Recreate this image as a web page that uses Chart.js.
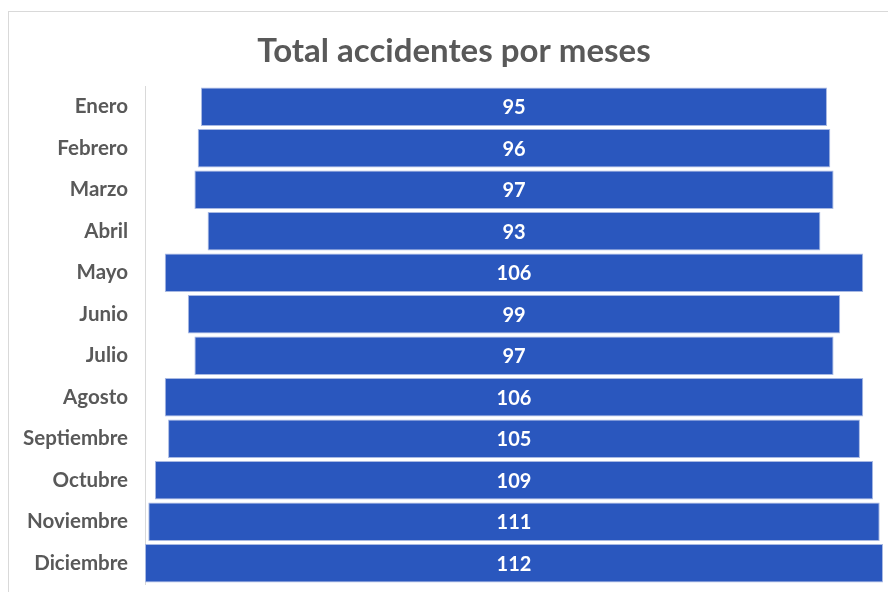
<!DOCTYPE html>
<html>
<head>
<meta charset="utf-8">
<script src="https://cdn.jsdelivr.net/npm/chart.js@4"></script>
<style>
  html, body { margin: 0; padding: 0; background: #fff; overflow: hidden; }
  canvas { display: block; }
</style>
</head>
<body>
<canvas id="funnel" width="888" height="592"></canvas>
<script>
'use strict';

// datos del gráfico
const meses = ["Enero", "Febrero", "Marzo", "Abril", "Mayo", "Junio", "Julio",
               "Agosto", "Septiembre", "Octubre", "Noviembre", "Diciembre"];
const accidentes = [95, 96, 97, 93, 106, 99, 97, 106, 105, 109, 111, 112];
const titulo = "Total accidentes por meses";

{
    const maxVal = Math.max(...accidentes);

    // marco gris + título (centrado un poco a la derecha, como en Excel)
    const marco = {
        id: 'marco',
        beforeDraw(chart) {
            const c = chart.ctx;
            c.save();
            c.strokeStyle = '#d9d9d9';
            c.lineWidth = 1;
            c.strokeRect(8.5, 11.5, 1000, 1000);
            c.fillStyle = '#595959';
            c.font = 'bold 33px Lato';
            c.textAlign = 'center';
            c.textBaseline = 'alphabetic';
            c.fillText(titulo, 454, 62);
            c.restore();
        }
    };

    // etiquetas de valor dentro de cada barra
    const etiquetas = {
        id: 'etiquetas',
        afterDatasetsDraw(chart) {
            const c = chart.ctx;
            const meta = chart.getDatasetMeta(0);
            c.save();
            c.fillStyle = '#ffffff';
            c.font = 'bold 20px Lato';
            c.textAlign = 'center';
            c.textBaseline = 'middle';
            meta.data.forEach((bar, i) => {
                const x = (bar.x + bar.base) / 2;
                c.fillText(String(accidentes[i]), x, bar.y + 1);
            });
            c.restore();
        }
    };

    let ctx = document.getElementById('funnel');
    new Chart(ctx, {
        type: 'bar',
        data: {
            labels: meses,
            datasets: [{
                data: accidentes.map(v => [-v / 2, v / 2]),
                backgroundColor: '#2a57be',
                borderColor: '#a8b9e3',
                borderWidth: 1,
                borderSkipped: false,
                barPercentage: 0.93,
                categoryPercentage: 1.0
            }]
        },
        options: {
            indexAxis: 'y',
            responsive: false,
            animation: false,
            layout: { padding: { left: 5, right: 5, top: 86, bottom: 8 } },
            plugins: {
                legend: { display: false },
                tooltip: { enabled: false },
                title: { display: false }
            },
            scales: {
                x: {
                    display: false,
                    min: -maxVal / 2,
                    max: maxVal / 2
                },
                y: {
                    afterFit(scale) {
                        scale.width = 140;
                        scale.paddingTop = 0;
                        scale.paddingBottom = 0;
                    },
                    grid: { display: false, drawTicks: false },
                    border: { display: true, color: '#d9d9d9', width: 1 },
                    ticks: {
                        color: '#595959',
                        padding: 17,
                        font: { family: 'Lato', size: 20.5, weight: 'bold' }
                    }
                }
            }
        },
        plugins: [marco, etiquetas]
    });
}
</script>
</body>
</html>
